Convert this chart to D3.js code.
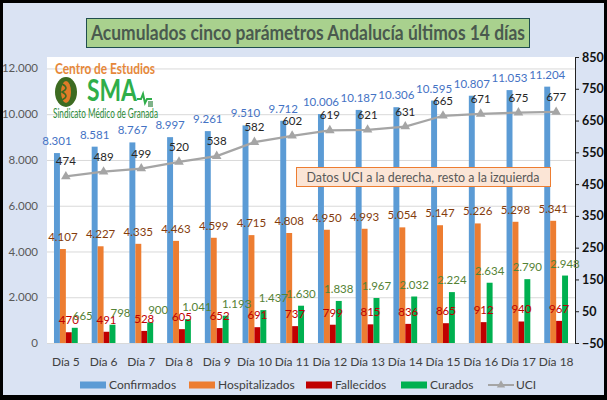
<!DOCTYPE html>
<html>
<head>
<meta charset="utf-8">
<script src="https://cdn.jsdelivr.net/npm/d3@7"></script>
<style>
  body { margin: 0; }
  text { font-family: Lato, "Liberation Sans", sans-serif; }
</style>
</head>
<body>
<div id="plot"></div>
<script>
// data
const days = ["Día 5","Día 6","Día 7","Día 8","Día 9","Día 10","Día 11","Día 12","Día 13","Día 14","Día 15","Día 16","Día 17","Día 18"];
const confirmados = [8301,8581,8767,8997,9261,9510,9712,10006,10187,10306,10595,10807,11053,11204];
const hospitalizados = [4107,4227,4335,4463,4599,4715,4808,4950,4993,5054,5147,5226,5298,5341];
const fallecidos = [470,491,528,605,652,691,737,799,815,836,865,912,940,967];
const curados = [665,798,900,1041,1193,1437,1630,1838,1967,2032,2224,2634,2790,2948];
const uci = [474,489,499,520,538,582,602,619,621,631,665,671,675,677];
const leftTicks = [0,2000,4000,6000,8000,10000,12000];
const rightTicks = [-50,50,150,250,350,450,550,650,750,850];

window.addEventListener('load', main);

function main(){
  let [ W, H ] = [607, 400];
  let svg = d3.select('#plot').append('svg').attr('width', W).attr('height', H);

  const es = d3.formatLocale({decimal: ",", thousands: ".", grouping: [3], currency: ["", "€"]});
  const fmt = es.format(",d");

  // frame
  svg.append('rect').attr('width', W).attr('height', H).attr('fill', '#000');
  svg.append('rect').attr('x', 3).attr('y', 3).attr('width', 601).attr('height', 392).attr('fill', '#dae3f3');

  // plot area
  let [ pl, pr, pt, pb ] = [47, 575, 57, 343];
  svg.append('rect').attr('x', pl).attr('y', pt).attr('width', pr - pl).attr('height', pb - pt).attr('fill', '#fff');

  let x = d3.scaleBand().domain(days).range([pl, pr]).paddingInner(0.37).paddingOuter(0.185);
  let keys = ['conf', 'hosp', 'fall', 'cur'];
  let xs = d3.scaleBand().domain(keys).range([0, x.bandwidth()]);
  let yL = d3.scaleLinear().domain([0, 12500]).range([pb, pt]);
  let yR = d3.scaleLinear().domain([-50, 850]).range([pb, pt]);

  // gridlines + left axis labels
  svg.append('g').selectAll('line').data(leftTicks).join('line')
     .attr('x1', pl).attr('x2', pr)
     .attr('y1', d => yL(d) + 0.5).attr('y2', d => yL(d) + 0.5)
     .attr('stroke', '#d9d9d9');
  svg.append('g').selectAll('text').data(leftTicks).join('text')
     .attr('x', 38).attr('y', d => yL(d)).attr('dy', '0.35em')
     .attr('text-anchor', 'end').attr('font-size', 11.5).attr('fill', '#595959')
     .text(d => fmt(d));

  // right axis
  let rAxis = svg.append('g').attr('transform', `translate(${pr},0)`)
     .call(d3.axisRight(yR).tickValues(rightTicks).tickSize(4).tickPadding(3).tickFormat(d => fmt(d)));
  rAxis.select('.domain').attr('stroke', '#222');
  rAxis.selectAll('.tick line').attr('stroke', '#222');
  rAxis.selectAll('.tick text').attr('font-size', 12.5).attr('font-weight', 'bold').attr('fill', '#111')
     .attr('font-family', 'Lato, "Liberation Sans", sans-serif');

  // series
  let series = [
    { key: 'conf', vals: confirmados,    color: '#5b9bd5', label: '#4472c4', nudge: days.map(() => 0) },
    { key: 'hosp', vals: hospitalizados, color: '#ed7d31', label: '#843c0c', nudge: days.map(() => 0) },
    { key: 'fall', vals: fallecidos,     color: '#c00000', label: '#c00000', nudge: days.map(() => 0) },
    { key: 'cur',  vals: curados,        color: '#00b050', label: '#548235', nudge: [8,8,8,9,11,10,0,0,0,0,0,0,0,0] }
  ];

  series.forEach(s => {
    let g = svg.append('g');
    g.selectAll('rect').data(s.vals).join('rect')
      .attr('x', (d, i) => x(days[i]) + xs(s.key))
      .attr('width', xs.bandwidth())
      .attr('y', d => yL(d))
      .attr('height', d => yL(0) - yL(d))
      .attr('fill', s.color);
  });

  // logo (over the plot, under labels)
  let logo = svg.append('g');
  logo.append('text').attr('x', 55).attr('y', 74).attr('font-size', 15).attr('font-weight', 'bold')
      .attr('font-family', '"Liberation Serif", "DejaVu Serif", serif')
      .attr('textLength', 100).attr('lengthAdjust', 'spacingAndGlyphs')
      .attr('fill', '#e6883a').text('Centro de Estudios');
  logo.append('ellipse').attr('cx', 66).attr('cy', 92).attr('rx', 11).attr('ry', 15).attr('fill', '#3d6b21');
  logo.append('ellipse').attr('cx', 66).attr('cy', 92).attr('rx', 5).attr('ry', 11).attr('fill', '#e07b28');
  logo.append('path').attr('d', 'M62,84 Q70,88 62,92 Q70,96 62,100').attr('stroke', '#3d6b21').attr('stroke-width', 1.5).attr('fill', 'none');
  logo.append('text').attr('x', 87).attr('y', 101).attr('font-size', 31).attr('font-weight', 'bold')
      .attr('textLength', 50).attr('lengthAdjust', 'spacingAndGlyphs')
      .attr('fill', '#2fae4a').text('SMA');
  logo.append('path').attr('d', 'M137,99 L141,99 L143,94 L145,103 L147,99 L152,99')
      .attr('stroke', '#2fae4a').attr('stroke-width', 2).attr('fill', 'none');
  logo.append('rect').attr('x', 148).attr('y', 101).attr('width', 5).attr('height', 6).attr('fill', '#7fb38a');
  logo.append('text').attr('x', 53).attr('y', 118).attr('font-size', 13)
      .attr('textLength', 105).attr('lengthAdjust', 'spacingAndGlyphs')
      .attr('fill', '#2e8b3a').text('Sindicato Médico de Granada');

  // bar labels
  series.forEach(s => {
    svg.append('g').selectAll('text').data(s.vals).join('text')
      .attr('x', (d, i) => x(days[i]) + xs(s.key) + xs.bandwidth() / 2 + s.nudge[i])
      .attr('y', d => yL(d) - 8)
      .attr('text-anchor', 'middle').attr('font-size', 11.5).attr('fill', s.label)
      .text(d => fmt(d));
  });

  // UCI line (right axis)
  let cx = (d, i) => x(days[i]) + x.bandwidth() / 2;
  let line = d3.line().x(cx).y(d => yR(d));
  svg.append('path').attr('d', line(uci)).attr('fill', 'none').attr('stroke', '#a5a5a5').attr('stroke-width', 2.25);
  let tri = d3.symbol().type(d3.symbolTriangle).size(40);
  svg.append('g').selectAll('path').data(uci).join('path')
     .attr('transform', (d, i) => `translate(${cx(d, i)},${yR(d)})`)
     .attr('d', tri()).attr('fill', '#a5a5a5');
  svg.append('g').selectAll('text').data(uci).join('text')
     .attr('x', cx).attr('y', d => yR(d) - 11)
     .attr('text-anchor', 'middle').attr('font-size', 11.5).attr('fill', '#262626')
     .text(d => fmt(d));

  // annotation box
  svg.append('rect').attr('x', 296.5).attr('y', 167.5).attr('width', 254).attr('height', 19)
     .attr('fill', '#fbe5d6').attr('stroke', '#ed7d31');
  svg.append('text').attr('x', 423).attr('y', 177).attr('dy', '0.35em').attr('text-anchor', 'middle')
     .attr('font-size', 13).attr('fill', '#595959')
     .attr('textLength', 233).attr('lengthAdjust', 'spacingAndGlyphs')
     .text('Datos UCI a la derecha, resto a la izquierda');

  // x labels
  svg.append('g').selectAll('text').data(days).join('text')
     .attr('x', d => x(d) + x.bandwidth() / 2).attr('y', 362).attr('dy', '0.35em')
     .attr('text-anchor', 'middle').attr('font-size', 12).attr('fill', '#404040')
     .text(d => d);

  // title
  svg.append('rect').attr('x', 86.5).attr('y', 18.5).attr('width', 443).attr('height', 29)
     .attr('fill', '#a9d18e').attr('stroke', '#1f4e4e');
  svg.append('text').attr('x', 308).attr('y', 33).attr('dy', '0.35em').attr('text-anchor', 'middle')
     .attr('font-size', 20).attr('font-weight', 'bold').attr('fill', '#4a5a4f')
     .attr('textLength', 434).attr('lengthAdjust', 'spacingAndGlyphs')
     .text('Acumulados cinco parámetros Andalucía últimos 14 días');

  // legend
  let legend = [
    { name: 'Confirmados',    color: '#5b9bd5', x: 80 },
    { name: 'Hospitalizados', color: '#ed7d31', x: 189 },
    { name: 'Fallecidos',     color: '#c00000', x: 306 },
    { name: 'Curados',        color: '#00b050', x: 401 },
    { name: 'UCI',            color: '#a5a5a5', x: 488, line: true }
  ];
  let lg = svg.append('g').selectAll('g').data(legend).join('g')
     .attr('transform', d => `translate(${d.x},385)`);
  lg.filter(d => !d.line).append('rect').attr('y', -3.5).attr('width', 26).attr('height', 7).attr('fill', d => d.color);
  lg.filter(d => d.line).append('line').attr('x1', 0).attr('x2', 26).attr('stroke', d => d.color).attr('stroke-width', 2);
  lg.filter(d => d.line).append('path').attr('transform', 'translate(13,0)').attr('d', d3.symbol().type(d3.symbolTriangle).size(30)()).attr('fill', d => d.color);
  lg.append('text').attr('x', d => d.line ? 28 : 29).attr('dy', '0.35em').attr('font-size', 12).attr('fill', '#404040')
    .text(d => d.name);
}
</script>
</body>
</html>
